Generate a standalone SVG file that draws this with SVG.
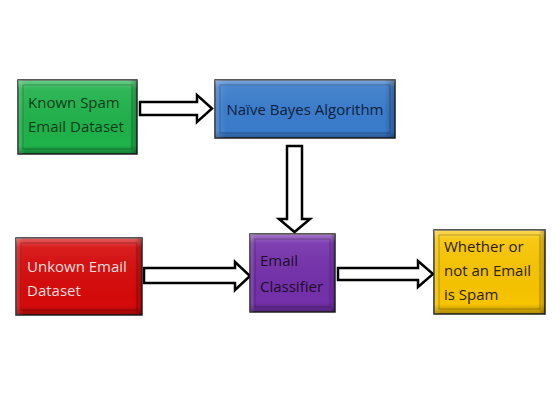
<svg xmlns="http://www.w3.org/2000/svg" width="560" height="400" viewBox="0 0 560 400">
<defs>
<linearGradient id="hl" x1="0" y1="0" x2="0" y2="1">
<stop offset="0" stop-color="#fff" stop-opacity="0.35"/>
<stop offset="0.12" stop-color="#fff" stop-opacity="0.08"/>
<stop offset="0.88" stop-color="#000" stop-opacity="0"/>
<stop offset="1" stop-color="#000" stop-opacity="0.3"/>
</linearGradient>
<linearGradient id="hs" x1="0" y1="0" x2="1" y2="0">
<stop offset="0" stop-color="#fff" stop-opacity="0.15"/>
<stop offset="0.06" stop-color="#fff" stop-opacity="0"/>
<stop offset="0.94" stop-color="#000" stop-opacity="0"/>
<stop offset="1" stop-color="#000" stop-opacity="0.25"/>
</linearGradient>
</defs>
<style>
.box{stroke:#222;stroke-width:1.5}
.inner{fill:none;stroke:#000;stroke-opacity:0.25;stroke-width:1}
.arrow{fill:#fff;stroke:#000;stroke-width:2.5;stroke-linejoin:miter}
text{font-family:"Open Sans","Liberation Sans",sans-serif;font-size:15px}
</style>
<rect width="560" height="400" fill="#fff"/>
<g id="connectors">
<polygon class="arrow" points="140,102 197,102 197,95 212,108.5 197,122 197,115 140,115"/>
<polygon class="arrow" points="287,146 302,146 302,219 310,219 294.5,232 279,219 287,219"/>
<polygon class="arrow" points="144,268 235,268 235,262 250,276 235,290 235,283 144,283"/>
<polygon class="arrow" points="338,268 418,268 418,261 433,274 418,287 418,280 338,280"/>
</g>
<g id="known-spam">
<rect class="box" x="18" y="80" width="119" height="74" fill="#1fb24a"/>
<rect x="18" y="80" width="119" height="74" fill="url(#hl)"/>
<rect x="18" y="80" width="119" height="74" fill="url(#hs)"/>
<rect class="inner" x="23" y="85" width="109" height="64"/>
<text x="28" y="108" fill="#0a3d1a">Known Spam</text>
<text x="28" y="132" fill="#0a3d1a">Email Dataset</text>
</g>
<g id="naive-bayes">
<rect class="box" x="215" y="80" width="180" height="58" fill="#3a7ccc"/>
<rect x="215" y="80" width="180" height="58" fill="url(#hl)"/>
<rect x="215" y="80" width="180" height="58" fill="url(#hs)"/>
<rect class="inner" x="220" y="85" width="170" height="48"/>
<text x="305" y="115" text-anchor="middle" fill="#0d1f3c">Naïve Bayes Algorithm</text>
</g>
<g id="unknown-email">
<rect class="box" x="16" y="238" width="126" height="77" fill="#d60a0a"/>
<rect x="16" y="238" width="126" height="77" fill="url(#hl)"/>
<rect x="16" y="238" width="126" height="77" fill="url(#hs)"/>
<rect class="inner" x="21" y="243" width="116" height="67"/>
<text x="27" y="272" fill="#f3dede">Unkown Email</text>
<text x="27" y="296" fill="#f3dede">Dataset</text>
</g>
<g id="email-classifier">
<rect class="box" x="250" y="234" width="85" height="78" fill="#7430aa"/>
<rect x="250" y="234" width="85" height="78" fill="url(#hl)"/>
<rect x="250" y="234" width="85" height="78" fill="url(#hs)"/>
<rect class="inner" x="255" y="239" width="75" height="68"/>
<text x="260" y="266" fill="#1c0d2a">Email</text>
<text x="260" y="292" fill="#1c0d2a">Classifier</text>
</g>
<g id="result">
<rect class="box" x="434" y="230" width="111" height="84" fill="#f7c400"/>
<rect x="434" y="230" width="111" height="84" fill="url(#hl)"/>
<rect x="434" y="230" width="111" height="84" fill="url(#hs)"/>
<rect class="inner" x="439" y="235" width="101" height="74"/>
<text x="444" y="252" fill="#2a2000">Whether or</text>
<text x="444" y="276" fill="#2a2000">not an Email</text>
<text x="444" y="300" fill="#2a2000">is Spam</text>
</g>
</svg>
